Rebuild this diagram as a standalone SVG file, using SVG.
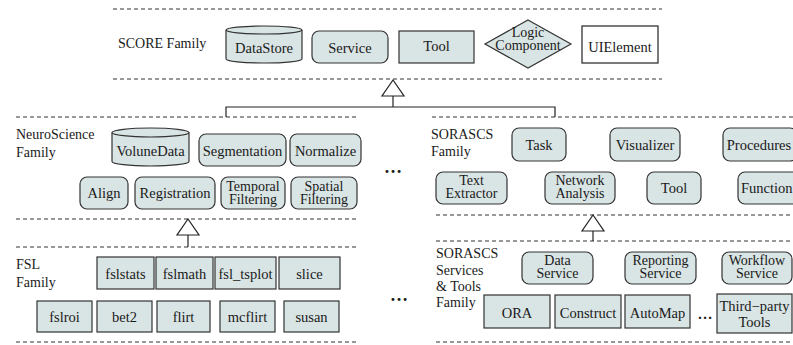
<svg xmlns="http://www.w3.org/2000/svg" width="793" height="345" viewBox="0 0 793 345">
<style>
.bg{fill:#ffffff}
.sep{stroke:#333;stroke-width:1;stroke-dasharray:4,3;fill:none}
.box{fill:#d9e4e4;stroke:#333;stroke-width:1.2}
.wbox{fill:#ffffff;stroke:#222;stroke-width:1.2}
.t{font-family:"Liberation Serif","Times New Roman",serif;font-size:14.5px;fill:#1a1a1a;text-anchor:middle}
.t2{font-family:"Liberation Serif","Times New Roman",serif;font-size:14px;fill:#1a1a1a;text-anchor:middle}
.lbl{font-family:"Liberation Serif","Times New Roman",serif;font-size:14px;fill:#1a1a1a}
.dots{font-family:"Liberation Serif","Times New Roman",serif;font-size:18px;fill:#1a1a1a;text-anchor:middle;font-weight:bold}
.con{stroke:#222;stroke-width:1.2;fill:none}
.tri{fill:#ffffff;stroke:#222;stroke-width:1.2}
</style>
<rect class="bg" x="0" y="0" width="793" height="345"/>

<g id="separators">
<line class="sep" x1="113" y1="9" x2="662" y2="9"/>
<line class="sep" x1="113" y1="79" x2="662" y2="79"/>
<line class="sep" x1="16" y1="117" x2="357" y2="117"/>
<line class="sep" x1="16" y1="219" x2="357" y2="219"/>
<line class="sep" x1="16" y1="247" x2="357" y2="247"/>
<line class="sep" x1="16" y1="342" x2="357" y2="342"/>
<line class="sep" x1="432" y1="117" x2="793" y2="117"/>
<line class="sep" x1="436" y1="215" x2="793" y2="215"/>
<line class="sep" x1="436" y1="241" x2="793" y2="241"/>
<line class="sep" x1="436" y1="342" x2="793" y2="342"/>
</g>

<g id="labels">
<text class="lbl" x="118" y="48">SCORE Family</text>
<text class="lbl" x="16" y="139">NeuroScience</text>
<text class="lbl" x="16" y="157">Family</text>
<text class="lbl" x="431" y="139">SORASCS</text>
<text class="lbl" x="431" y="156">Family</text>
<text class="lbl" x="16" y="269">FSL</text>
<text class="lbl" x="16" y="287">Family</text>
<text class="lbl" x="436" y="258">SORASCS</text>
<text class="lbl" x="436" y="275">Services</text>
<text class="lbl" x="436" y="291">&amp; Tools</text>
<text class="lbl" x="436" y="307">Family</text>
<text class="dots" x="393" y="173">…</text>
<text class="dots" x="399" y="301">…</text>
<text class="dots" x="705" y="319" style="font-size:15px">…</text>
</g>

<g id="connectors">
<line class="con" x1="393" y1="96" x2="393" y2="107"/>
<polyline class="con" points="226,117 226,107 555,107 555,117"/>
<polygon class="tri" points="393,80 382,96 404,96"/>
<line class="con" x1="188" y1="235" x2="188" y2="247"/>
<polygon class="tri" points="188,219 177,235 199,235"/>
<line class="con" x1="593" y1="231" x2="593" y2="241"/>
<polygon class="tri" points="593,215 582,231 604,231"/>
</g>

<g id="DataStore">
<path class="box" d="M226,30 A38,4 0 0 1 302,30 L302,59 A38,4 0 0 1 226,59 Z"/>
<path class="box" style="fill:none" d="M226,30 A38,4 0 0 0 302,30"/>
<text class="t" x="264" y="53">DataStore</text>
</g>
<g id="Service">
<rect class="box" x="312" y="31" width="76" height="32" rx="7"/>
<text class="t" x="350" y="53">Service</text>
</g>
<g id="Tool">
<rect class="box" x="399" y="31" width="75" height="32"/>
<text class="t" x="436.5" y="51">Tool</text>
</g>
<g id="LogicComponent">
<polygon class="box" points="528,20 571,44 528,68 485,44"/>
<text class="t2" x="528" y="36.5">Logic</text>
<text class="t2" x="528" y="50">Component</text>
</g>
<g id="UIElement">
<rect class="wbox" x="582" y="26" width="76" height="37"/>
<text class="t" x="620" y="52">UIElement</text>
</g>

<g id="VoluneData">
<path class="box" d="M112,132.5 A38.5,4.5 0 0 1 189,132.5 L189,161.5 A38.5,4.5 0 0 1 112,161.5 Z"/>
<path class="box" style="fill:none" d="M112,132.5 A38.5,4.5 0 0 0 189,132.5"/>
<text class="t" x="150.5" y="156">VoluneData</text>
</g>
<g id="Segmentation">
<rect class="box" x="199" y="134" width="87" height="32" rx="7"/>
<text class="t" x="242.5" y="156">Segmentation</text>
</g>
<g id="Normalize">
<rect class="box" x="290" y="134" width="71" height="32" rx="7"/>
<text class="t" x="325.5" y="156">Normalize</text>
</g>
<g id="Align">
<rect class="box" x="80" y="177" width="48" height="32" rx="7"/>
<text class="t" x="104" y="198">Align</text>
</g>
<g id="Registration">
<rect class="box" x="135" y="177" width="80" height="32" rx="7"/>
<text class="t" x="175" y="198">Registration</text>
</g>
<g id="TemporalFiltering">
<rect class="box" x="221" y="177" width="64" height="32" rx="7"/>
<text class="t2" x="253" y="190.5">Temporal</text>
<text class="t2" x="253" y="204">Filtering</text>
</g>
<g id="SpatialFiltering">
<rect class="box" x="291" y="177" width="66" height="32" rx="7"/>
<text class="t2" x="324" y="190.5">Spatial</text>
<text class="t2" x="324" y="204">Filtering</text>
</g>

<g id="Task">
<rect class="box" x="512" y="128" width="54" height="33" rx="7"/>
<text class="t" x="539" y="150">Task</text>
</g>
<g id="Visualizer">
<rect class="box" x="610" y="128" width="70" height="33" rx="7"/>
<text class="t" x="645" y="150">Visualizer</text>
</g>
<g id="Procedures">
<rect class="box" x="723" y="128" width="74" height="33" rx="7"/>
<text class="t" x="759" y="150">Procedures</text>
</g>
<g id="TextExtractor">
<rect class="box" x="436" y="172" width="71" height="32" rx="7"/>
<text class="t2" x="471.5" y="184.5">Text</text>
<text class="t2" x="471.5" y="198">Extractor</text>
</g>
<g id="NetworkAnalysis">
<rect class="box" x="545" y="172" width="70" height="32" rx="7"/>
<text class="t2" x="580" y="184.5">Network</text>
<text class="t2" x="580" y="198">Analysis</text>
</g>
<g id="SorascsTool">
<rect class="box" x="647" y="172" width="54" height="32" rx="7"/>
<text class="t" x="674" y="193">Tool</text>
</g>
<g id="Function">
<rect class="box" x="738" y="172" width="64" height="32" rx="7"/>
<text class="t" x="741" y="193" style="text-anchor:start">Function</text>
</g>

<g id="fslstats">
<rect class="box" x="97" y="257" width="57" height="32"/>
<text class="t" x="125.5" y="279">fslstats</text>
</g>
<g id="fslmath">
<rect class="box" x="156" y="257" width="57" height="32"/>
<text class="t" x="184.5" y="279">fslmath</text>
</g>
<g id="fsl_tsplot">
<rect class="box" x="215" y="257" width="61" height="32"/>
<text class="t" x="245.5" y="279">fsl_tsplot</text>
</g>
<g id="slice">
<rect class="box" x="279" y="257" width="61" height="32"/>
<text class="t" x="309.5" y="279">slice</text>
</g>
<g id="fslroi">
<rect class="box" x="37" y="301" width="55" height="31"/>
<text class="t" x="64.5" y="322">fslroi</text>
</g>
<g id="bet2">
<rect class="box" x="97" y="301" width="55" height="31"/>
<text class="t" x="124.5" y="322">bet2</text>
</g>
<g id="flirt">
<rect class="box" x="157" y="301" width="53" height="31"/>
<text class="t" x="183.5" y="322">flirt</text>
</g>
<g id="mcflirt">
<rect class="box" x="220" y="301" width="55" height="31"/>
<text class="t" x="247.5" y="322">mcflirt</text>
</g>
<g id="susan">
<rect class="box" x="284" y="301" width="55" height="31"/>
<text class="t" x="311.5" y="322">susan</text>
</g>

<g id="DataService">
<rect class="box" x="522" y="252" width="71" height="32" rx="7"/>
<text class="t2" x="557.5" y="264.5">Data</text>
<text class="t2" x="557.5" y="278">Service</text>
</g>
<g id="ReportingService">
<rect class="box" x="625" y="252" width="71" height="32" rx="7"/>
<text class="t2" x="660.5" y="264.5">Reporting</text>
<text class="t2" x="660.5" y="278">Service</text>
</g>
<g id="WorkflowService">
<rect class="box" x="722" y="252" width="70" height="32" rx="7"/>
<text class="t2" x="757" y="264.5">Workflow</text>
<text class="t2" x="757" y="278">Service</text>
</g>
<g id="ORA">
<rect class="box" x="484" y="295" width="66" height="33"/>
<text class="t" x="517" y="318">ORA</text>
</g>
<g id="Construct">
<rect class="box" x="555" y="295" width="66" height="33"/>
<text class="t" x="588" y="318">Construct</text>
</g>
<g id="AutoMap">
<rect class="box" x="625" y="295" width="65" height="33"/>
<text class="t" x="657.5" y="318">AutoMap</text>
</g>
<g id="ThirdPartyTools">
<rect class="box" x="717" y="294" width="75" height="39"/>
<text class="t" x="754.5" y="311">Third−party</text>
<text class="t" x="754.5" y="327">Tools</text>
</g>
</svg>
